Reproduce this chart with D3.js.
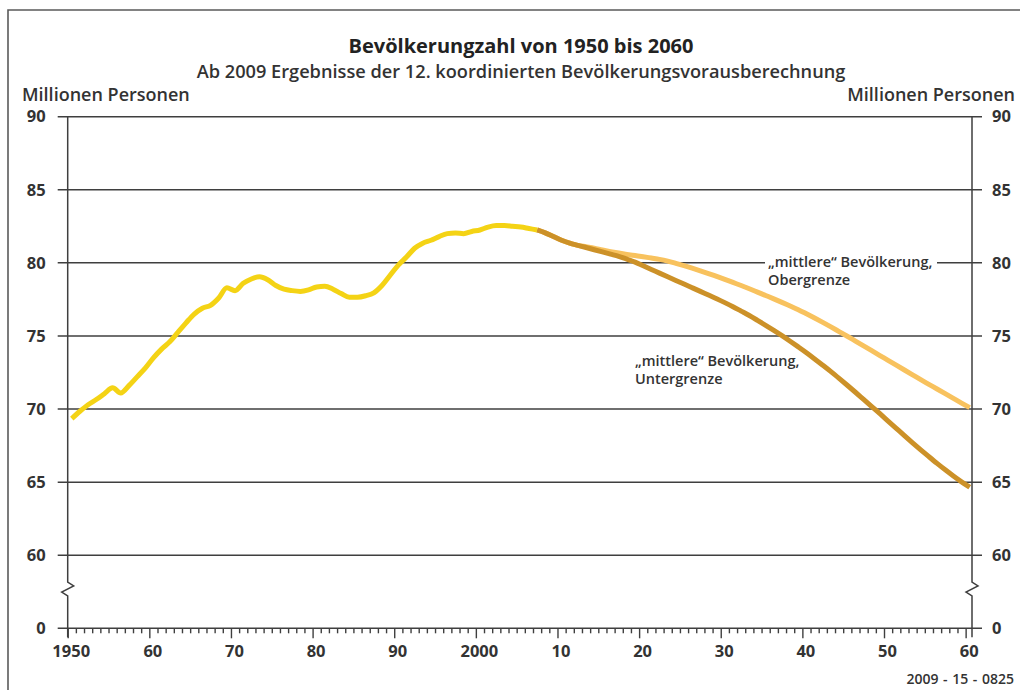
<!DOCTYPE html>
<html>
<head>
<meta charset="utf-8">
<script src="https://cdn.jsdelivr.net/npm/d3@7/dist/d3.min.js"></script>
<style>
  html, body { margin: 0; padding: 0; background: #fff; }
  svg { display: block; }
  text { font-family: "Open Sans", "DejaVu Sans", sans-serif; }
</style>
</head>
<body>
<svg id="chart" width="1020" height="690"></svg>
<script>
// ---------------- DATA ----------------
const titleText = "Bevölkerungzahl von 1950 bis 2060";
const subtitleText = "Ab 2009 Ergebnisse der 12. koordinierten Bevölkerungsvorausberechnung";
const unitLabel = "Millionen Personen";
const sourceCode = "2009 - 15 - 0825";

// y axis: the lowest tick is drawn as "0" (axis break below 60)
const yTickValues = [55, 60, 65, 70, 75, 80, 85, 90];
const yTickLabels = ["0", "60", "65", "70", "75", "80", "85", "90"];

const xMajorTicks = [1950, 1960, 1970, 1980, 1990, 2000, 2010, 2020, 2030, 2040, 2050, 2060];
const xMajorLabels = ["1950", "60", "70", "80", "90", "2000", "10", "20", "30", "40", "50", "60"];

// historical population (millions), 1950 .. 2007
const histStartYear = 1950;
const histValues = [
  69.35, 69.85, 70.3, 70.65, 71.05, 71.45, 71.1, 71.6, 72.2, 72.8,
  73.5, 74.1, 74.6, 75.25, 75.9, 76.5, 76.9, 77.1, 77.6, 78.3,
  78.1, 78.6, 78.9, 79.05, 78.85, 78.45, 78.2, 78.1, 78.05, 78.15,
  78.35, 78.4, 78.2, 77.9, 77.65, 77.65, 77.75, 77.95, 78.45, 79.15,
  79.85, 80.4, 81.0, 81.35, 81.55, 81.8, 82.0, 82.05, 82.0, 82.15,
  82.25, 82.45, 82.55, 82.55, 82.5, 82.45, 82.35, 82.25
];

// projections, 2007 .. 2060
const projStartYear = 2007;
const lowerValues = [ // "mittlere" Bevölkerung, Untergrenze
  82.25, 82.05, 81.8, 81.55, 81.35, 81.2, 81.05, 80.9, 80.75, 80.6,
  80.45, 80.25, 80.05, 79.8, 79.55, 79.3, 79.05, 78.8, 78.55, 78.3,
  78.05, 77.8, 77.55, 77.28, 77.0, 76.7, 76.4, 76.07, 75.73, 75.38,
  75.02, 74.64, 74.25, 73.85, 73.43, 73.0, 72.56, 72.1, 71.63, 71.15,
  70.66, 70.17, 69.68, 69.18, 68.68, 68.18, 67.69, 67.21, 66.74, 66.28,
  65.84, 65.42, 65.02, 64.65
];
const upperValues = [ // "mittlere" Bevölkerung, Obergrenze
  82.25, 82.05, 81.8, 81.55, 81.35, 81.2, 81.1, 81.0, 80.88, 80.77,
  80.67, 80.58, 80.5, 80.42, 80.33, 80.24, 80.12, 79.97, 79.81, 79.64,
  79.46, 79.27, 79.07, 78.87, 78.66, 78.45, 78.23, 78.0, 77.77, 77.54,
  77.3, 77.05, 76.8, 76.52, 76.23, 75.93, 75.62, 75.3, 74.98, 74.65,
  74.32, 73.99, 73.66, 73.33, 73.0, 72.67, 72.34, 72.01, 71.69, 71.37,
  71.05, 70.73, 70.41, 70.1
];

const annotationUpper = ["„mittlere“ Bevölkerung,", "Obergrenze"];
const annotationLower = ["„mittlere“ Bevölkerung,", "Untergrenze"];

// ---------------- STYLE ----------------
const colHist = "#f4d315";
const colLower = "#cc9128";
const colUpper = "#f8c25e";
const colGrid = "#3f3f3f";
const colText = "#333";

const svg = d3.select("#chart");

// frame
svg.append("path")
  .attr("d", "M8,700 L8,10 L1030,10")
  .attr("fill", "none").attr("stroke", "#5a5a5a").attr("stroke-width", 1.6);

// scales
const x = d3.scaleLinear().domain([1950, 2060.78]).range([67.7, 972]);
const y = d3.scaleLinear().domain([55, 90]).range([628.3, 116.7]);
const xL = 67.7, xR = 972;
const midYear = 0.5; // values are plotted at mid-year

// header
svg.append("text").attr("x", 521).attr("y", 53).attr("text-anchor", "middle")
  .attr("font-size", 20).attr("font-weight", 700).attr("fill", "#222").text(titleText);
svg.append("text").attr("x", 521).attr("y", 78).attr("text-anchor", "middle")
  .attr("font-size", 18.2).attr("font-weight", 600).attr("fill", colText).text(subtitleText);
svg.append("text").attr("x", 22).attr("y", 101)
  .attr("font-size", 18).attr("font-weight", 600).attr("fill", colText).text(unitLabel);
svg.append("text").attr("x", 1015).attr("y", 101).attr("text-anchor", "end")
  .attr("font-size", 18).attr("font-weight", 600).attr("fill", colText).text(unitLabel);

// gridlines (incl. baseline) with outer ticks on both sides
svg.append("g").selectAll("line").data(yTickValues).join("line")
  .attr("x1", xL - 10).attr("x2", xR + 10)
  .attr("y1", d => y(d)).attr("y2", d => y(d))
  .attr("stroke", colGrid).attr("stroke-width", 1.5);

// vertical axes with break symbol
const breakY = 589;
function vAxis(x0) {
  const p = d3.path();
  p.moveTo(x0, y(90));
  p.lineTo(x0, breakY - 7);
  p.lineTo(x0 + 6, breakY - 3);
  p.lineTo(x0 - 6, breakY + 3);
  p.lineTo(x0, breakY + 7);
  p.lineTo(x0, y(55) + 9);
  svg.append("path").attr("d", p.toString()).attr("fill", "none")
    .attr("stroke", colGrid).attr("stroke-width", 1.5).attr("stroke-linejoin", "miter");
}
vAxis(xL);
vAxis(xR);

// y tick labels (d3 axes)
const fmtY = d => yTickLabels[yTickValues.indexOf(d)];
const leftAxis = svg.append("g").attr("transform", `translate(${xL},0)`)
  .call(d3.axisLeft(y).tickValues(yTickValues).tickFormat(fmtY).tickSize(0).tickPadding(22));
const rightAxis = svg.append("g").attr("transform", `translate(${xR},0)`)
  .call(d3.axisRight(y).tickValues(yTickValues).tickFormat(fmtY).tickSize(0).tickPadding(20));
[leftAxis, rightAxis].forEach(g => {
  g.select(".domain").remove();
  g.selectAll("text").attr("font-family", "'DejaVu Sans', sans-serif")
    .attr("font-size", 16.5).attr("font-weight", 700).attr("fill", colText);
});

// x axis: yearly minor ticks, decade major ticks
const minorYears = d3.range(1951, 2061).filter(v => v % 10 !== 0);
const xMinor = svg.append("g").attr("transform", `translate(0,${y(55)})`)
  .call(d3.axisBottom(x).tickValues(minorYears).tickFormat("").tickSize(5));
const fmtX = d => xMajorLabels[xMajorTicks.indexOf(d)];
const xMajor = svg.append("g").attr("transform", `translate(0,${y(55)})`)
  .call(d3.axisBottom(x).tickValues(xMajorTicks).tickFormat(fmtX).tickSize(10).tickPadding(7));
[xMinor, xMajor].forEach(g => {
  g.select(".domain").remove();
  g.selectAll("line").attr("stroke", colGrid).attr("stroke-width", 1.4);
});
xMajor.selectAll("text").attr("dx", 3)
  .attr("font-family", "'DejaVu Sans', sans-serif")
  .attr("font-size", 16.5).attr("font-weight", 700).attr("fill", colText);

// lines
const line = d3.line()
  .x(d => x(d.year + midYear))
  .y(d => y(d.value))
  .curve(d3.curveMonotoneX);
const toSeries = (start, vals) => vals.map((v, i) => ({ year: start + i, value: v }));

const draw = (data, col) => svg.append("path").datum(data)
  .attr("d", line).attr("fill", "none").attr("stroke", col)
  .attr("stroke-width", 5).attr("stroke-linejoin", "round").attr("stroke-linecap", "butt");

draw(toSeries(projStartYear, upperValues), colUpper);
draw(toSeries(projStartYear, lowerValues), colLower);
draw(toSeries(histStartYear, histValues), colHist);

// annotations
function annotate(lines, x0, y0, knockout) {
  const g = svg.append("g");
  if (knockout) {
    g.append("rect").attr("x", x0 - 3).attr("y", y(80) - 3).attr("width", 172).attr("height", 6).attr("fill", "#fff");
  }
  lines.forEach((t, i) => {
    g.append("text").attr("x", x0).attr("y", y0 + i * 17.5)
      .attr("font-size", 14.5).attr("font-weight", 600).attr("fill", colText).text(t);
  });
}
annotate(annotationUpper, 768, 267, true);
annotate(annotationLower, 635, 366, false);

// source code
svg.append("text").attr("x", 1014).attr("y", 684).attr("text-anchor", "end")
  .attr("font-size", 14).attr("font-weight", 600).attr("word-spacing", 1)
  .attr("fill", colText).text(sourceCode);
</script>
</body>
</html>
